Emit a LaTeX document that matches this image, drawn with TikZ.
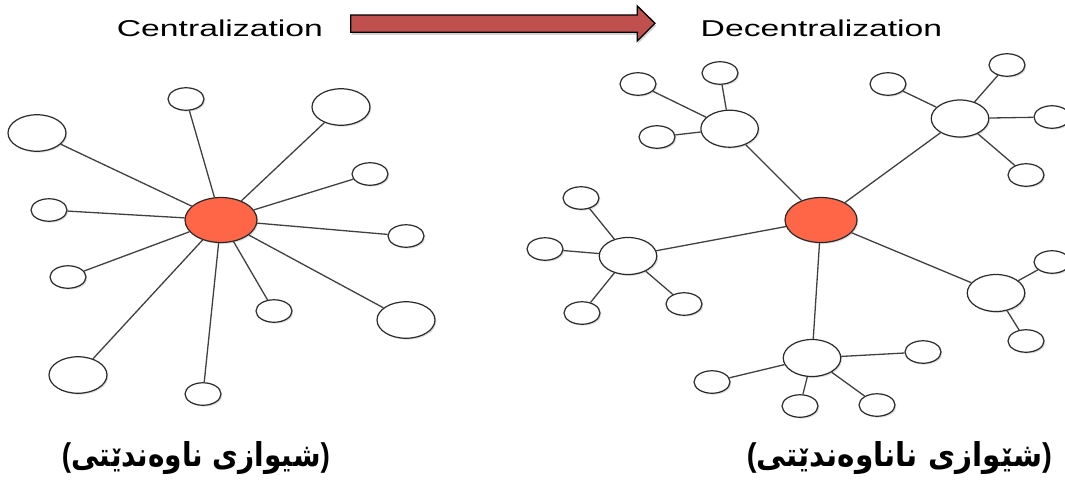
\documentclass[tikz,border=0pt]{standalone}
\usepackage{fontspec}
\usepackage{graphicx}
\usetikzlibrary{shapes.geometric,shadows}
\setmainfont{Liberation Sans}
\newfontfamily\arabicfont[Script=Arabic]{DejaVu Sans}
\TeXXeTstate=1
\definecolor{hubred}{HTML}{FF6647}
\definecolor{arrowred}{HTML}{C0504D}
\definecolor{edgegray}{HTML}{404040}
\definecolor{bordergray}{HTML}{2A2A2A}
\newcommand{\kurd}[1]{{\bfseries(}{\arabicfont\bfseries\beginR #1\endR}{\bfseries)}}
\tikzset{
  shd/.style={drop shadow={opacity=0.25, shadow xshift=1.4pt, shadow yshift=-1.4pt}},
  basenode/.style={ellipse, draw=bordergray, fill=white, line width=1.2pt, inner sep=0pt, shd},
  leafsmall/.style={basenode, minimum width=36pt, minimum height=22.5pt},
  leafbig/.style={basenode, minimum width=58pt, minimum height=36.5pt},
  hubnode/.style={basenode, minimum width=57.5pt, minimum height=37pt},
  centernode/.style={basenode, fill=hubred, minimum width=72pt, minimum height=45pt},
  edge/.style={draw=edgegray, line width=1.3pt},
  bigarrow/.style={draw=black, line width=1.3pt, fill=arrowred, line join=miter,
    drop shadow={opacity=0.35, shadow xshift=1pt, shadow yshift=-2.5pt}},
  title/.style={anchor=base west, inner sep=0pt},
  klabel/.style={inner sep=0pt}
}
\begin{document}
\begin{tikzpicture}[x=1pt,y=-1pt]
\useasboundingbox (0,0) rectangle (1065,483);

% titles and arrow
\node[title] (tcen) at (116.7,36.3) {\resizebox{206pt}{16.6pt}{Centralization}};
\node[title] (tdec) at (700.5,36.3) {\resizebox{241.5pt}{16.6pt}{Decentralization}};
\path[bigarrow] (350.7,15) -- (637.3,15) -- (637.3,6) -- (655,23.3) -- (637.3,41)
  -- (637.3,32.3) -- (350.7,32.3) -- cycle;

% ---------- left: centralised ----------
\node[centernode] (lc) at (221,220) {};
\node[leafsmall] (l1) at (186,99) {};
\node[leafbig]   (l2) at (341,107) {};
\node[leafbig]   (l3) at (37,133) {};
\node[leafsmall] (l4) at (370,174) {};
\node[leafsmall] (l5) at (49,210) {};
\node[leafsmall] (l6) at (406,236) {};
\node[leafsmall] (l7) at (68,277) {};
\node[leafsmall] (l8) at (274,311) {};
\node[leafbig]   (l9) at (406,320) {};
\node[leafbig]   (l10) at (78,375) {};
\node[leafsmall] (l11) at (203,394) {};
\foreach \n in {l1,l2,l3,l4,l5,l6,l7,l8,l9,l10,l11}
  \draw[edge] (lc) -- (\n);

% ---------- right: decentralised ----------
\node[centernode] (rc) at (821,220) {};
\node[hubnode] (ha) at (729.6,128.7) {};
\node[hubnode] (hb) at (960,118.5) {};
\node[hubnode] (hc) at (628,256) {};
\node[hubnode] (hd) at (996,293) {};
\node[hubnode] (he) at (812,358) {};

\node[leafsmall] (a1) at (638,84) {};
\node[leafsmall] (a2) at (720,73) {};
\node[leafsmall] (a3) at (657,137) {};

\node[leafsmall] (b1) at (888,84) {};
\node[leafsmall] (b2) at (1007,65) {};
\node[leafsmall] (b3) at (1052,117) {};
\node[leafsmall] (b4) at (1026,175) {};

\node[leafsmall] (c1) at (581,198) {};
\node[leafsmall] (c2) at (545,249) {};
\node[leafsmall] (c3) at (582,313) {};
\node[leafsmall] (c4) at (684,304) {};

\node[leafsmall] (d1) at (1052,262) {};
\node[leafsmall] (d2) at (1026,341) {};

\node[leafsmall] (e1) at (712,382) {};
\node[leafsmall] (e2) at (800,406) {};
\node[leafsmall] (e3) at (877,405) {};
\node[leafsmall] (e4) at (923,352) {};

\foreach \n in {ha,hb,hc,hd,he} \draw[edge] (rc) -- (\n);
\foreach \n in {a1,a2,a3} \draw[edge] (ha) -- (\n);
\foreach \n in {b1,b2,b3,b4} \draw[edge] (hb) -- (\n);
\foreach \n in {c1,c2,c3,c4} \draw[edge] (hc) -- (\n);
\foreach \n in {d1,d2} \draw[edge] (hd) -- (\n);
\foreach \n in {e1,e2,e3,e4} \draw[edge] (he) -- (\n);

% ---------- captions ----------
\node[klabel] (cap1) at (196,458.5) {\resizebox*{268pt}{33pt}{\kurd{شیوازی ناوەندێتی}}};
\node[klabel] (cap2) at (899.5,458.5) {\resizebox*{305pt}{33pt}{\kurd{شێوازی ناناوەندێتی}}};
\end{tikzpicture}
\end{document}
